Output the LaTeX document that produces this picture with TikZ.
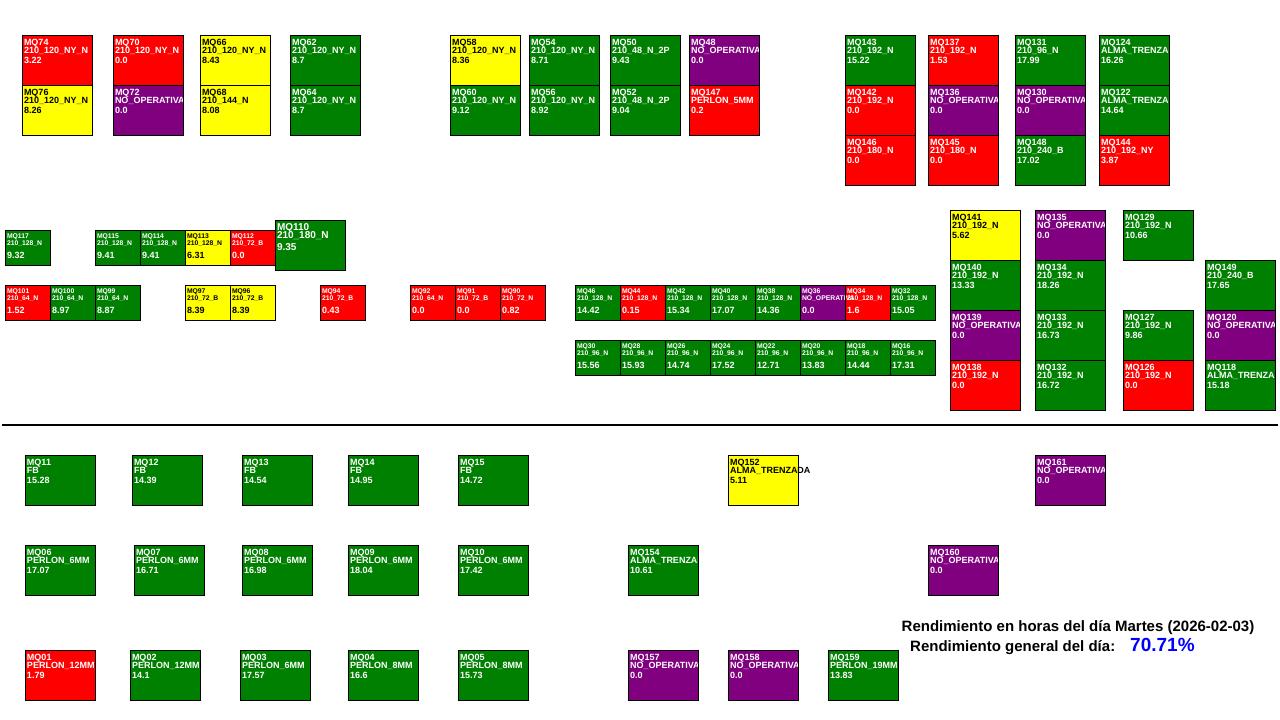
\documentclass[tikz,border=0pt]{standalone}
\usepackage{fontspec}
\setmainfont{Liberation Sans}
\usetikzlibrary{calc}
\definecolor{mqred}{HTML}{FF0000}
\definecolor{mqgreen}{HTML}{008000}
\definecolor{mqyellow}{HTML}{FFFF00}
\definecolor{mqpurple}{HTML}{800080}
\definecolor{mqblue}{HTML}{0000FF}
\pgfdeclarelayer{bgl}
\pgfdeclarelayer{fills}
\pgfdeclarelayer{edges}
\pgfsetlayers{bgl,fills,main,edges}
\tikzset{
  mbox/.style={inner sep=0pt, outer sep=0pt, anchor=north west},
  boxN/.style={minimum width=70pt, minimum height=50pt},
  boxS/.style={minimum width=45pt, minimum height=35pt},
  boxL/.style={minimum width=70pt, minimum height=50pt},
  cR/.style={fill=mqred}, cG/.style={fill=mqgreen}, cY/.style={fill=mqyellow}, cP/.style={fill=mqpurple},
  cRt/.style={text=white}, cGt/.style={text=white}, cYt/.style={text=black}, cPt/.style={text=white},
  edge/.style={draw=black, line width=0.9pt},
  lbl/.style={anchor=base west, inner sep=0pt, outer sep=0pt},
  fAN/.style={font=\fontsize{9}{9}\selectfont\bfseries},
  fBN/.style={font=\fontsize{9}{9}\selectfont\bfseries},
  fCN/.style={font=\fontsize{9}{9}\selectfont\bfseries},
  fAS/.style={font=\fontsize{6.8}{7}\selectfont\bfseries},
  fBS/.style={font=\fontsize{6.8}{7}\selectfont\bfseries},
  fCS/.style={font=\fontsize{9}{9}\selectfont\bfseries},
  fAL/.style={font=\fontsize{10}{10}\selectfont\bfseries},
  fBL/.style={font=\fontsize{10}{10}\selectfont\bfseries},
  fCL/.style={font=\fontsize{10}{10}\selectfont\bfseries},
  title/.style={inner sep=0pt, font=\fontsize{15}{15}\selectfont\bfseries},
}
\def\yAN{10}\def\yBN{18}\def\yCN{28}
\def\yAS{8}\def\yBS{15}\def\yCS{28}
\def\yAL{10}\def\yBL{18}\def\yCL{30}
% #1 kind, #2 id, #3 x, #4 y, #5 colour, #6 type, #7 value
\newcommand\mq[7]{%
  \begin{pgfonlayer}{fills}
    \node[mbox,box#1,c#5] (b#2) at (#3,#4) {};
  \end{pgfonlayer}
  \begin{pgfonlayer}{edges}
    \draw[edge] (b#2.north west) rectangle (b#2.south east);
  \end{pgfonlayer}
  \node[lbl,fA#1,c#5t] (n#2) at ($(b#2.north west)+(2,\csname yA#1\endcsname)$) {MQ#2};
  \node[lbl,fB#1,c#5t] (t#2) at ($(b#2.north west)+(2,\csname yB#1\endcsname)$) {#6};
  \node[lbl,fC#1,c#5t] (v#2) at ($(b#2.north west)+(2,\csname yC#1\endcsname)$) {#7};
}
\begin{document}
\begin{tikzpicture}[x=1pt,y=-1pt]
\begin{pgfonlayer}{bgl}
\fill[white] (0,0) rectangle (1280,720);
\end{pgfonlayer}
\useasboundingbox (0,0) rectangle (1280,720);
% top groups
\mq{N}{74}{22}{35}{R}{210\_120\_NY\_N}{3.22}
\mq{N}{76}{22}{85}{Y}{210\_120\_NY\_N}{8.26}
\mq{N}{70}{113}{35}{R}{210\_120\_NY\_N}{0.0}
\mq{N}{72}{113}{85}{P}{NO\_OPERATIVA}{0.0}
\mq{N}{66}{200}{35}{Y}{210\_120\_NY\_N}{8.43}
\mq{N}{68}{200}{85}{Y}{210\_144\_N}{8.08}
\mq{N}{62}{290}{35}{G}{210\_120\_NY\_N}{8.7}
\mq{N}{64}{290}{85}{G}{210\_120\_NY\_N}{8.7}
\mq{N}{58}{450}{35}{Y}{210\_120\_NY\_N}{8.36}
\mq{N}{60}{450}{85}{G}{210\_120\_NY\_N}{9.12}
\mq{N}{54}{529}{35}{G}{210\_120\_NY\_N}{8.71}
\mq{N}{56}{529}{85}{G}{210\_120\_NY\_N}{8.92}
\mq{N}{50}{610}{35}{G}{210\_48\_N\_2P}{9.43}
\mq{N}{52}{610}{85}{G}{210\_48\_N\_2P}{9.04}
\mq{N}{48}{689}{35}{P}{NO\_OPERATIVA}{0.0}
\mq{N}{147}{689}{85}{R}{PERLON\_5MM}{0.2}
\mq{N}{143}{845}{35}{G}{210\_192\_N}{15.22}
\mq{N}{142}{845}{85}{R}{210\_192\_N}{0.0}
\mq{N}{146}{845}{135}{R}{210\_180\_N}{0.0}
\mq{N}{137}{928}{35}{R}{210\_192\_N}{1.53}
\mq{N}{136}{928}{85}{P}{NO\_OPERATIVA}{0.0}
\mq{N}{145}{928}{135}{R}{210\_180\_N}{0.0}
\mq{N}{131}{1015}{35}{G}{210\_96\_N}{17.99}
\mq{N}{130}{1015}{85}{P}{NO\_OPERATIVA}{0.0}
\mq{N}{148}{1015}{135}{G}{210\_240\_B}{17.02}
\mq{N}{124}{1099}{35}{G}{ALMA\_TRENZADA}{16.26}
\mq{N}{122}{1099}{85}{G}{ALMA\_TRENZADA}{14.64}
\mq{N}{144}{1099}{135}{R}{210\_192\_NY}{3.87}
% right middle block
\mq{N}{141}{950}{210}{Y}{210\_192\_N}{5.62}
\mq{N}{140}{950}{260}{G}{210\_192\_N}{13.33}
\mq{N}{139}{950}{310}{P}{NO\_OPERATIVA}{0.0}
\mq{N}{138}{950}{360}{R}{210\_192\_N}{0.0}
\mq{N}{135}{1035}{210}{P}{NO\_OPERATIVA}{0.0}
\mq{N}{134}{1035}{260}{G}{210\_192\_N}{18.26}
\mq{N}{133}{1035}{310}{G}{210\_192\_N}{16.73}
\mq{N}{132}{1035}{360}{G}{210\_192\_N}{16.72}
\mq{N}{129}{1123}{210}{G}{210\_192\_N}{10.66}
\mq{N}{127}{1123}{310}{G}{210\_192\_N}{9.86}
\mq{N}{126}{1123}{360}{R}{210\_192\_N}{0.0}
\mq{N}{149}{1205}{260}{G}{210\_240\_B}{17.65}
\mq{N}{120}{1205}{310}{P}{NO\_OPERATIVA}{0.0}
\mq{N}{118}{1205}{360}{G}{ALMA\_TRENZA}{15.18}
% small rows
\mq{S}{117}{5}{230}{G}{210\_128\_N}{9.32}
\mq{S}{115}{95}{230}{G}{210\_128\_N}{9.41}
\mq{S}{114}{140}{230}{G}{210\_128\_N}{9.41}
\mq{S}{113}{185}{230}{Y}{210\_128\_N}{6.31}
\mq{S}{112}{230}{230}{R}{210\_72\_B}{0.0}
\mq{L}{110}{275}{220}{G}{210\_180\_N}{9.35}
\mq{S}{101}{5}{285}{R}{210\_64\_N}{1.52}
\mq{S}{100}{50}{285}{G}{210\_64\_N}{8.97}
\mq{S}{99}{95}{285}{G}{210\_64\_N}{8.87}
\mq{S}{97}{185}{285}{Y}{210\_72\_B}{8.39}
\mq{S}{96}{230}{285}{Y}{210\_72\_B}{8.39}
\mq{S}{94}{320}{285}{R}{210\_72\_B}{0.43}
\mq{S}{92}{410}{285}{R}{210\_64\_N}{0.0}
\mq{S}{91}{455}{285}{R}{210\_72\_B}{0.0}
\mq{S}{90}{500}{285}{R}{210\_72\_N}{0.82}
\mq{S}{46}{575}{285}{G}{210\_128\_N}{14.42}
\mq{S}{44}{620}{285}{R}{210\_128\_N}{0.15}
\mq{S}{42}{665}{285}{G}{210\_128\_N}{15.34}
\mq{S}{40}{710}{285}{G}{210\_128\_N}{17.07}
\mq{S}{38}{755}{285}{G}{210\_128\_N}{14.36}
\mq{S}{36}{800}{285}{P}{NO\_OPERATIVA}{0.0}
\mq{S}{34}{845}{285}{R}{210\_128\_N}{1.6}
\mq{S}{32}{890}{285}{G}{210\_128\_N}{15.05}
\mq{S}{30}{575}{340}{G}{210\_96\_N}{15.56}
\mq{S}{28}{620}{340}{G}{210\_96\_N}{15.93}
\mq{S}{26}{665}{340}{G}{210\_96\_N}{14.74}
\mq{S}{24}{710}{340}{G}{210\_96\_N}{17.52}
\mq{S}{22}{755}{340}{G}{210\_96\_N}{12.71}
\mq{S}{20}{800}{340}{G}{210\_96\_N}{13.83}
\mq{S}{18}{845}{340}{G}{210\_96\_N}{14.44}
\mq{S}{16}{890}{340}{G}{210\_96\_N}{17.31}
% separator
\coordinate (sepL) at (2,425);
\coordinate (sepR) at (1278,425);
\draw[line width=2.6pt] (sepL) -- (sepR);
% bottom area
\mq{N}{11}{25}{455}{G}{FB}{15.28}
\mq{N}{12}{132}{455}{G}{FB}{14.39}
\mq{N}{13}{242}{455}{G}{FB}{14.54}
\mq{N}{14}{348}{455}{G}{FB}{14.95}
\mq{N}{15}{458}{455}{G}{FB}{14.72}
\mq{N}{152}{728}{455}{Y}{ALMA\_TRENZADA}{5.11}
\mq{N}{161}{1035}{455}{P}{NO\_OPERATIVA}{0.0}
\mq{N}{06}{25}{545}{G}{PERLON\_6MM}{17.07}
\mq{N}{07}{134}{545}{G}{PERLON\_6MM}{16.71}
\mq{N}{08}{242}{545}{G}{PERLON\_6MM}{16.98}
\mq{N}{09}{348}{545}{G}{PERLON\_6MM}{18.04}
\mq{N}{10}{458}{545}{G}{PERLON\_6MM}{17.42}
\mq{N}{154}{628}{545}{G}{ALMA\_TRENZADA}{10.61}
\mq{N}{160}{928}{545}{P}{NO\_OPERATIVA}{0.0}
\mq{N}{01}{25}{650}{R}{PERLON\_12MM}{1.79}
\mq{N}{02}{130}{650}{G}{PERLON\_12MM}{14.1}
\mq{N}{03}{240}{650}{G}{PERLON\_6MM}{17.57}
\mq{N}{04}{348}{650}{G}{PERLON\_8MM}{16.6}
\mq{N}{05}{458}{650}{G}{PERLON\_8MM}{15.73}
\mq{N}{157}{628}{650}{P}{NO\_OPERATIVA}{0.0}
\mq{N}{158}{728}{650}{P}{NO\_OPERATIVA}{0.0}
\mq{N}{159}{828}{650}{G}{PERLON\_19MM}{13.83}
% titles
\node[title, anchor=base] (ttl) at (1078,631) {Rendimiento en horas del día Martes (2026-02-03)};
\node[title, anchor=base west] (gen) at (910,651) {Rendimiento general del día:};
\node[inner sep=0pt, anchor=base west, text=mqblue, font=\fontsize{19}{19}\selectfont\bfseries] (pct) at (1130,651) {70.71\%};
\end{tikzpicture}
\end{document}
